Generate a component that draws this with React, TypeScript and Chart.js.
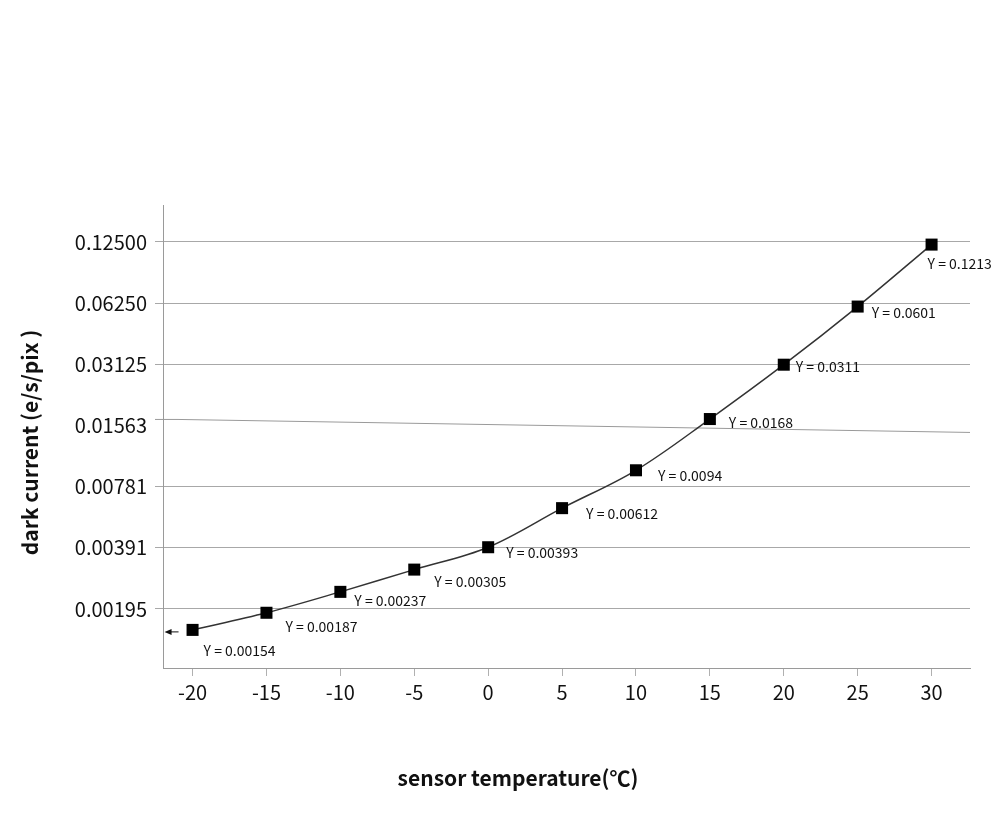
import React, { useEffect, useRef } from "react";
import { Chart, registerables } from "chart.js";

Chart.register(...registerables);

const temperatures = [-20, -15, -10, -5, 0, 5, 10, 15, 20, 25, 30];
const darkCurrent = [0.00154, 0.00187, 0.00237, 0.00305, 0.00393, 0.00612, 0.0094, 0.0168, 0.0311, 0.0601, 0.1213];
const pointLabels = [
  "Y = 0.00154",
  "Y = 0.00187",
  "Y = 0.00237",
  "Y = 0.00305",
  "Y = 0.00393",
  "Y = 0.00612",
  "Y = 0.0094",
  "Y = 0.0168",
  "Y = 0.0311",
  "Y = 0.0601",
  "Y = 0.1213",
];
const yTickValues = [0.001953125, 0.00390625, 0.0078125, 0.015625, 0.03125, 0.0625, 0.125];
const yTickLabels = ["0.00195", "0.00391", "0.00781", "0.01563", "0.03125", "0.06250", "0.12500"];
const xTickValues = [-20, -15, -10, -5, 0, 5, 10, 15, 20, 25, 30];
const xTitle = "sensor temperature(℃)";
const yTitle = "dark current (e/s/pix )";

// label placement relative to each marker (layout only)
const labelDx = [11, 19, 14, 20, 18, 24, 22, 19, 12, 14, -4];
const labelDy = [21, 14, 9, 12, 5, 6, 5, 4, 2, 6, 19];

const FONT = "'Noto Sans CJK SC', 'Noto Sans', sans-serif";

const decorPlugin = {
  id: "decor",
  beforeDatasetsDraw(chart: any) {
    const { ctx, chartArea, scales } = chart;
    const y = scales.y.getPixelForValue(yTickValues[3]);
    ctx.save();
    ctx.strokeStyle = "#9a9a9a";
    ctx.lineWidth = 1;
    ctx.beginPath();
    ctx.moveTo(chartArea.left - 8, y - 6);
    ctx.lineTo(chartArea.left + 15, y - 6);
    ctx.lineTo(chartArea.right, y + 7);
    ctx.stroke();
    ctx.restore();
  },
  afterDatasetsDraw(chart: any) {
    const { ctx, chartArea } = chart;
    const meta = chart.getDatasetMeta(0);
    ctx.save();
    ctx.fillStyle = "#111";
    ctx.font = `14px ${FONT}`;
    ctx.textAlign = "left";
    ctx.textBaseline = "middle";
    meta.data.forEach((pt: any, i: number) => {
      ctx.fillText(pointLabels[i], pt.x + labelDx[i], pt.y + labelDy[i]);
    });
    // small arrow left of first point
    const p0 = meta.data[0];
    const ay = p0.y + 2;
    ctx.strokeStyle = "#111";
    ctx.lineWidth = 1;
    ctx.beginPath();
    ctx.moveTo(p0.x - 14, ay);
    ctx.lineTo(p0.x - 22, ay);
    ctx.stroke();
    ctx.beginPath();
    ctx.moveTo(p0.x - 28, ay);
    ctx.lineTo(p0.x - 21, ay - 3);
    ctx.lineTo(p0.x - 21, ay + 3);
    ctx.closePath();
    ctx.fill();
    // axis titles
    ctx.font = `bold 21px ${FONT}`;
    ctx.textAlign = "center";
    ctx.fillStyle = "#111";
    ctx.fillText(xTitle, 518, 778);
    ctx.translate(30, (chartArea.top + chartArea.bottom) / 2 + 6);
    ctx.rotate(-Math.PI / 2);
    ctx.fillText(yTitle, 0, 0);
    ctx.restore();
  },
};

export default function App() {
  const ref = useRef<HTMLCanvasElement>(null);
  useEffect(() => {
    document.body.style.margin = "0";
    const chart = new Chart(ref.current as HTMLCanvasElement, {
      type: "line",
      data: {
        datasets: [
          {
            data: temperatures.map((t, i) => ({ x: t, y: darkCurrent[i] })),
            borderColor: "#333",
            borderWidth: 1.5,
            tension: 0.35,
            pointStyle: "rect",
            pointRadius: 8.5,
            pointBackgroundColor: "#000",
            pointBorderColor: "#000",
            pointBorderWidth: 0,
            fill: false,
          },
        ],
      },
      options: {
        animation: false,
        responsive: false,
        layout: { padding: { top: 205, right: 30, left: 0, bottom: 0 } },
        plugins: { legend: { display: false }, tooltip: { enabled: false }, title: { display: false } },
        scales: {
          x: {
            type: "linear",
            min: -22,
            max: 32.6,
            afterBuildTicks: (scale: any) => {
              scale.ticks = xTickValues.map((v) => ({ value: v }));
            },
            afterFit: (scale: any) => {
              scale.height = 165;
            },
            ticks: {
              color: "#111",
              font: { family: FONT, size: 20 },
              padding: 4,
              callback: (v: any) => String(v),
            },
            grid: { drawOnChartArea: false, drawTicks: true, tickLength: 8, color: "#b0b0b0" },
            border: { display: true, color: "#9a9a9a" },
          },
          y: {
            type: "logarithmic",
            min: 0.001,
            max: 0.19,
            afterBuildTicks: (scale: any) => {
              scale.ticks = yTickValues.map((v) => ({ value: v }));
            },
            afterFit: (scale: any) => {
              scale.width = 163;
            },
            ticks: {
              color: "#111",
              font: { family: FONT, size: 20 },
              padding: 8,
              callback: (v: any) => {
                const idx = yTickValues.indexOf(v);
                return idx >= 0 ? yTickLabels[idx] : "";
              },
            },
            grid: {
              color: (c: any) => (c.tick && c.tick.value === yTickValues[3] ? "rgba(0,0,0,0)" : "#a8a8a8"),
              tickColor: (c: any) => (c.tick && c.tick.value === yTickValues[3] ? "rgba(0,0,0,0)" : "#a8a8a8"),
              tickLength: 8,
            },
            border: { display: true, color: "#9a9a9a" },
            title: { display: false },
          },
        },
      },
      plugins: [decorPlugin],
    } as any);
    return () => chart.destroy();
  }, []);
  return <canvas ref={ref} width={1000} height={833} />;
}
